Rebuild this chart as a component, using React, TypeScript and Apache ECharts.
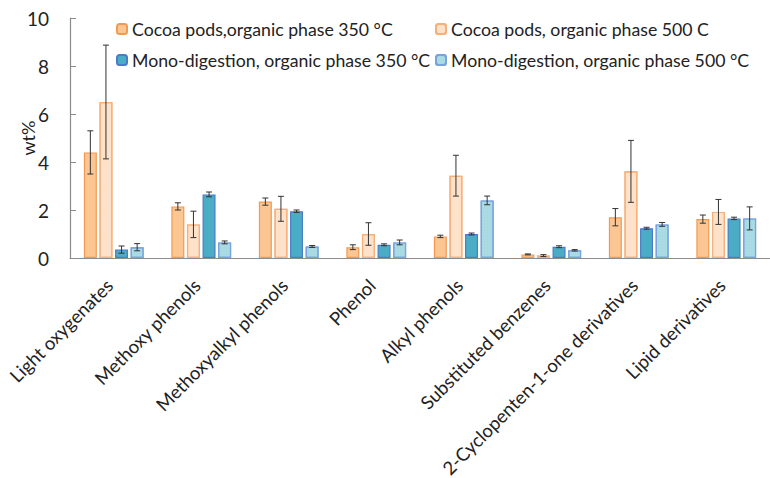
import React, { useEffect, useRef } from "react";
import * as echarts from "echarts";

const categories = [
  "Light oxygenates",
  "Methoxy phenols",
  "Methoxyalkyl phenols",
  "Phenol",
  "Alkyl phenols",
  "Substituted benzenes",
  "2-Cyclopenten-1-one derivatives",
  "Lipid derivatives",
];

const seriesNames = [
  "Cocoa pods,organic phase 350 °C",
  "Cocoa pods, organic phase 500 C",
  "Mono-digestion, organic phase 350 °C",
  "Mono-digestion, organic phase 500 °C",
];

const cocoa350 = [4.4, 2.15, 2.35, 0.45, 0.9, 0.15, 1.7, 1.62];
const cocoa500 = [6.5, 1.4, 2.05, 1.0, 3.43, 0.1, 3.61, 1.92];
const mono350 = [0.35, 2.65, 1.95, 0.55, 1.0, 0.47, 1.24, 1.65];
const mono500 = [0.45, 0.65, 0.48, 0.65, 2.4, 0.32, 1.4, 1.65];

const cocoa350Err = [0.9, 0.15, 0.15, 0.1, 0.05, 0.02, 0.36, 0.17];
const cocoa500Err = [2.37, 0.55, 0.52, 0.47, 0.85, 0.04, 1.29, 0.52];
const mono350Err = [0.15, 0.1, 0.05, 0.04, 0.04, 0.04, 0.04, 0.05];
const mono500Err = [0.15, 0.06, 0.04, 0.1, 0.18, 0.03, 0.08, 0.48];

const yTicks = [0, 2, 4, 6, 8, 10];

const values = [cocoa350, cocoa500, mono350, mono500];
const errors = [cocoa350Err, cocoa500Err, mono350Err, mono500Err];

const fills = ["#FCC693", "#FDE1C8", "#4BACC6", "#A8DAE3"];
const borders = ["#F29A52", "#F6B07A", "#4A7CC8", "#7AA3DE"];

const BAR_W = 13;
const GAP_RATIO = 0.2;

export default function App() {
  const ref = useRef<HTMLDivElement>(null);
  useEffect(() => {
    document.body.style.margin = "0";
    if (!ref.current) return;
    const chart = echarts.init(ref.current, null, { renderer: "svg" });
    const font = "Lato, 'Open Sans', sans-serif";
    const gapPx = BAR_W * GAP_RATIO;
    const groupW = 4 * BAR_W + 3 * gapPx;

    const barSeries = values.map((data, i) => ({
      name: seriesNames[i],
      type: "bar",
      data,
      barWidth: BAR_W,
      barGap: GAP_RATIO * 100 + "%",
      itemStyle: {
        color: fills[i],
        borderColor: borders[i],
        borderWidth: 1.2,
        decal:
          i === 1 || i === 3
            ? {
                symbol: "rect",
                symbolSize: 0.5,
                dashArrayX: [1, 2],
                dashArrayY: [1, 2],
                color: "rgba(255,255,255,0.45)",
                rotation: 0,
              }
            : undefined,
      },
      emphasis: { disabled: true },
      z: 2,
    }));

    const errSeries = values.map((data, i) => ({
      name: seriesNames[i] + " err",
      type: "custom",
      data: data.map((v, j) => [j, v, errors[i][j]]),
      z: 5,
      silent: true,
      renderItem: (params: any, api: any) => {
        const x = api.value(0);
        const v = api.value(1);
        const e = api.value(2);
        const offset = -groupW / 2 + i * (BAR_W + gapPx) + BAR_W / 2;
        const hi = api.coord([x, v + e]);
        const lo = api.coord([x, v - e]);
        const cx = hi[0] + offset;
        const cap = 3;
        const style = { stroke: "#333", lineWidth: 1 };
        return {
          type: "group",
          children: [
            { type: "line", shape: { x1: cx, y1: hi[1], x2: cx, y2: lo[1] }, style },
            { type: "line", shape: { x1: cx - cap, y1: hi[1], x2: cx + cap, y2: hi[1] }, style },
            { type: "line", shape: { x1: cx - cap, y1: lo[1], x2: cx + cap, y2: lo[1] }, style },
          ],
        };
      },
    }));

    const legendText = { fontFamily: font, fontSize: 17.7, color: "#222" };
    chart.setOption({
      animation: false,
      legend: [
        {
          data: [seriesNames[0], seriesNames[2]],
          orient: "vertical",
          left: 111,
          top: 15,
          itemWidth: 10,
          itemHeight: 10,
          itemGap: 13,
          textStyle: legendText,
          selectedMode: false,
        },
        {
          data: [seriesNames[1], seriesNames[3]],
          orient: "vertical",
          left: 430,
          top: 15,
          itemWidth: 10,
          itemHeight: 10,
          itemGap: 13,
          textStyle: legendText,
          selectedMode: false,
        },
      ],
      grid: {
        left: 70,
        right: 0,
        top: 18,
        bottom: 220,
        containLabel: false,
        outerBoundsMode: "none",
      },
      xAxis: {
        type: "category",
        data: categories,
        axisLine: { lineStyle: { color: "#8c8c8c", width: 1.2 } },
        axisTick: { alignWithLabel: true, length: 5, lineStyle: { color: "#8c8c8c" } },
        axisLabel: {
          rotate: 45,
          interval: 0,
          margin: 20,
          padding: [0, 6, 0, 0],
          fontFamily: font,
          fontSize: 18.5,
          color: "#222",
        },
      },
      yAxis: {
        type: "value",
        min: yTicks[0],
        max: yTicks[yTicks.length - 1],
        interval: 2,
        name: "wt%",
        nameLocation: "middle",
        nameGap: 33,
        nameRotate: 90,
        nameMoveOverlap: false,
        nameTextStyle: { fontFamily: font, fontSize: 18, color: "#222" },
        splitLine: { show: false },
        axisLine: { show: true, lineStyle: { color: "#8c8c8c", width: 1.2 } },
        axisTick: { show: true, inside: true, length: 6, lineStyle: { color: "#8c8c8c" } },
        axisLabel: { fontFamily: font, fontSize: 19, color: "#222", margin: 21 },
      },
      series: [...barSeries, ...errSeries],
    });
    return () => chart.dispose();
  }, []);
  return <div ref={ref} style={{ width: 770, height: 478 }} />;
}
